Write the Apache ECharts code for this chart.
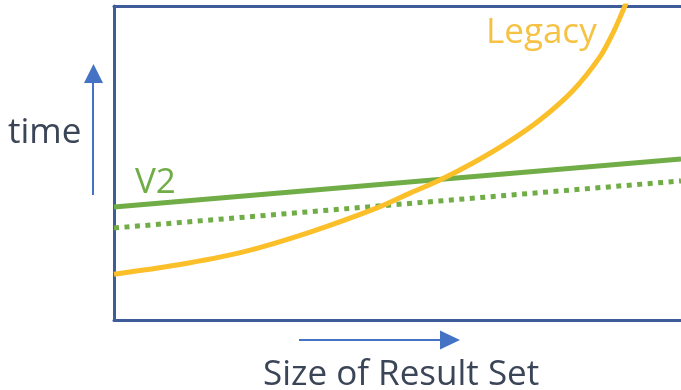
<!DOCTYPE html>
<html>
<head>
<meta charset="utf-8">
<script src="https://cdn.jsdelivr.net/npm/echarts@6/dist/echarts.min.js"></script>
<style>
  html, body { margin: 0; padding: 0; background: #ffffff; }
  #chart { width: 681px; height: 390px; }
</style>
</head>
<body>
<div id="chart"></div>
<script>
// Conceptual cost curves: query time versus size of the result set.
const sizes = [0, 11.1, 22.8, 34.6, 46.4, 52.2, 57.5, 63.3, 69.3, 75.1, 81.0, 85.7, 88.0, 89.8, 91.5];
const legacyTime = [14.6, 17.5, 21.7, 28.0, 35.7, 40.4, 44.6, 50.0, 56.4, 63.7, 73.2, 83.8, 91.4, 98.7, 106];
const v2Sizes = [0, 100];
const v2Time = [36.0, 51.3];
const v2AltTime = [29.3, 44.3];

const labels = { y: 'time', x: 'Size of Result Set', v2: 'V2', legacy: 'Legacy' };

const pair = (xs, ys) => xs.map((x, i) => [x, ys[i]]);

const textColor = '#3b4558';
const arrowColor = '#4472c4';
const frameColor = '#3e5c99';
const green = '#70ad47';
const gold = '#fbbf2a';
const font = '"Open Sans", Lato, sans-serif';

const hiddenAxis = {
  type: 'value', min: 0, max: 100,
  axisTick: { show: false }, axisLabel: { show: false }, splitLine: { show: false }
};
const frameLine = { show: true, onZero: false, lineStyle: { color: frameColor, width: 3 } };

const chart = echarts.init(document.getElementById('chart'), null, { renderer: 'canvas' });

chart.setOption({
  animation: false,
  backgroundColor: '#ffffff',
  // frame is open on the right: only bottom, top and left lines are drawn
  grid: { left: 114, top: 6, right: 0, bottom: 70, containLabel: false },
  xAxis: [
    Object.assign({}, hiddenAxis, { position: 'bottom', axisLine: frameLine }),
    Object.assign({}, hiddenAxis, { position: 'top', axisLine: frameLine })
  ],
  yAxis: Object.assign({}, hiddenAxis, { position: 'left', axisLine: frameLine }),
  series: [
    {
      name: 'V2 (alt)', type: 'line', data: pair(v2Sizes, v2AltTime),
      showSymbol: false, clip: true,
      lineStyle: { color: green, width: 5, type: [5, 5.5], cap: 'butt' }
    },
    {
      name: 'V2', type: 'line', data: pair(v2Sizes, v2Time),
      showSymbol: false, clip: true,
      lineStyle: { color: green, width: 5 }
    },
    {
      name: 'Legacy', type: 'line', data: pair(sizes, legacyTime),
      showSymbol: false, smooth: 0.3, clip: true,
      lineStyle: { color: gold, width: 5 }
    }
  ],
  graphic: [
    // vertical "time" arrow
    { type: 'line', shape: { x1: 93, y1: 195, x2: 93, y2: 82 },
      style: { stroke: arrowColor, lineWidth: 2 } },
    { type: 'polygon', shape: { points: [[84, 83], [103, 83], [93.5, 64]] },
      style: { fill: arrowColor } },
    // horizontal "size" arrow
    { type: 'line', shape: { x1: 299, y1: 340, x2: 442, y2: 340 },
      style: { stroke: arrowColor, lineWidth: 2 } },
    { type: 'polygon', shape: { points: [[440, 330.5], [440, 349.5], [460, 340]] },
      style: { fill: arrowColor } },
    { type: 'text', x: 8, y: 133,
      style: { text: labels.y, font: '400 35px ' + font, fill: textColor, verticalAlign: 'middle' } },
    { type: 'text', x: 263, y: 375,
      style: { text: labels.x, font: '400 35px ' + font, fill: textColor, verticalAlign: 'middle' } },
    { type: 'text', x: 135, y: 183,
      style: { text: labels.v2, font: '400 35px ' + font, fill: green, verticalAlign: 'middle' } },
    { type: 'text', x: 486, y: 33,
      style: { text: labels.legacy, font: '400 35px ' + font, fill: '#f6c244', verticalAlign: 'middle' } }
  ]
});
</script>
</body>
</html>
